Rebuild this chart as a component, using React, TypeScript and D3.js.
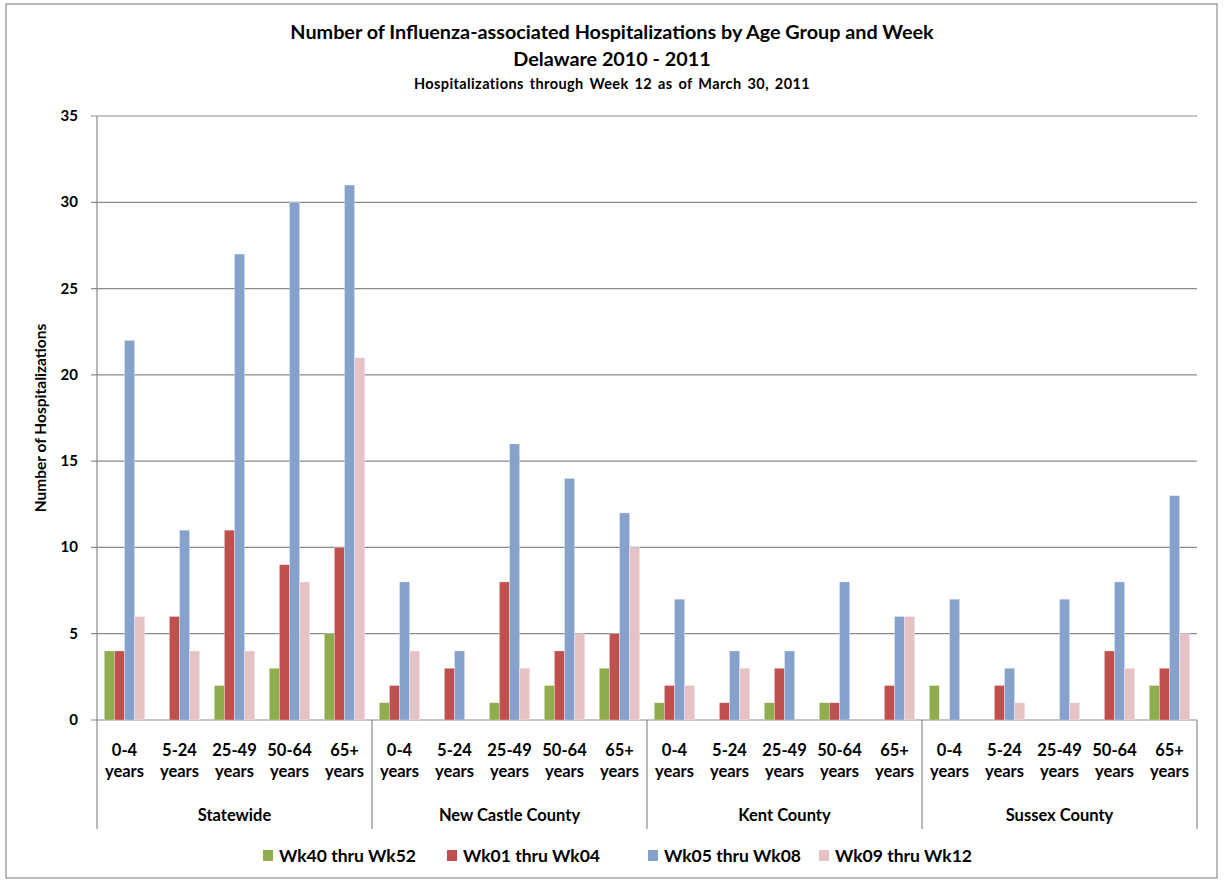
import React from "react";
import * as d3 from "d3";

const regions = ["Statewide", "New Castle County", "Kent County", "Sussex County"];
const ageGroups = ["0-4", "5-24", "25-49", "50-64", "65+"];
const seriesNames = ["Wk40 thru Wk52", "Wk01 thru Wk04", "Wk05 thru Wk08", "Wk09 thru Wk12"];
const seriesColors = ["#8FAD4F", "#C0504D", "#86A1CC", "#E5C3C4"];
// values per region, per age group, order of seriesNames
const statewide = [[4, 4, 22, 6], [0, 6, 11, 4], [2, 11, 27, 4], [3, 9, 30, 8], [5, 10, 31, 21]];
const newCastle = [[1, 2, 8, 4], [0, 3, 4, 0], [1, 8, 16, 3], [2, 4, 14, 5], [3, 5, 12, 10]];
const kent = [[1, 2, 7, 2], [0, 1, 4, 3], [1, 3, 4, 0], [1, 1, 8, 0], [0, 2, 6, 6]];
const sussex = [[2, 0, 7, 0], [0, 2, 3, 1], [0, 0, 7, 1], [0, 4, 8, 3], [2, 3, 13, 5]];
const yTicks = [0, 5, 10, 15, 20, 25, 30, 35];

const W = 1225, H = 880;
const left = 97, right = 1197, top = 116, bottom = 720;
const font = "Lato, 'Liberation Sans', Arial, sans-serif";

export default function App() {
  const allData = [statewide, newCastle, kent, sussex];
  const cats: { key: string; region: number; age: number; vals: number[] }[] = [];
  allData.forEach((reg, ri) => reg.forEach((vals, ai) => cats.push({ key: ri + "_" + ai, region: ri, age: ai, vals })));

  const x = d3.scaleBand<string>().domain(cats.map(c => c.key)).range([left, right]).paddingInner(0.264).paddingOuter(0.132);
  const xs = d3.scaleBand<number>().domain([0, 1, 2, 3]).range([0, x.bandwidth()]);
  const y = d3.scaleLinear().domain([0, 35]).range([bottom, top]);
  const step = x.step();
  const regionW = step * 5;

  return (
    <svg width={W} height={H} style={{ position: "absolute", left: 0, top: 0, background: "#fff" }} fontFamily={font}>
      <rect x={6} y={4} width={1211} height={874} fill="#fff" stroke="#8c8c8c" strokeWidth={1.2} />
      <text x={612} y={39} textAnchor="middle" fontWeight="bold" fontSize={19.8}>Number of Influenza-associated Hospitalizations by Age Group and Week</text>
      <text x={612} y={66} textAnchor="middle" fontWeight="bold" fontSize={19.8}>Delaware 2010 - 2011</text>
      <text x={612} y={88.5} textAnchor="middle" fontWeight="bold" fontSize={14.5} letterSpacing={0.4} wordSpacing={2}>Hospitalizations through Week 12 as of March 30, 2011</text>

      {yTicks.map(t => (
        <g key={t}>
          <line x1={left - 6} x2={right} y1={y(t)} y2={y(t)} stroke="#8a8a8a" strokeWidth={1.2} />
          <text x={78} y={y(t) + 5} textAnchor="end" fontWeight="bold" fontSize={15}>{t}</text>
        </g>
      ))}
      <line x1={left} x2={left} y1={top} y2={bottom} stroke="#8a8a8a" strokeWidth={1.2} />
      <text transform={`translate(46,${(top + bottom) / 2}) rotate(-90)`} textAnchor="middle" fontWeight="bold" fontSize={15.5}>Number of Hospitalizations</text>

      {cats.map(c => (
        <g key={c.key}>
          {c.vals.map((v, si) => v > 0 ? (
            <rect key={si} x={(x(c.key) as number) + (xs(si) as number)} y={y(v)} width={xs.bandwidth()} height={bottom - y(v)}
              fill={seriesColors[si]} stroke="rgba(255,255,255,0.5)" strokeWidth={0.6} />
          ) : null)}
          <text x={(x(c.key) as number) + x.bandwidth() / 2} y={756} textAnchor="middle" fontWeight="bold" fontSize={16.5}>{ageGroups[c.age]}</text>
          <text x={(x(c.key) as number) + x.bandwidth() / 2} y={777} textAnchor="middle" fontWeight="bold" fontSize={16.5}>years</text>
        </g>
      ))}

      {d3.range(regions.length + 1).map(i => (
        <line key={"v" + i} x1={left + i * regionW} x2={left + i * regionW} y1={bottom} y2={829} stroke="#8a8a8a" strokeWidth={1.2} />
      ))}
      {regions.map((r, i) => (
        <text key={r} x={left + i * regionW + regionW / 2} y={821} textAnchor="middle" fontWeight="bold" fontSize={16.5}>{r}</text>
      ))}

      {seriesNames.map((s, i) => {
        const lx = [263, 447, 648, 819][i];
        return (
          <g key={s}>
            <rect x={lx} y={850} width={10} height={11} fill={seriesColors[i]} />
            <text x={lx + 16} y={862} fontWeight="bold" fontSize={17.5}>{s}</text>
          </g>
        );
      })}
    </svg>
  );
}
